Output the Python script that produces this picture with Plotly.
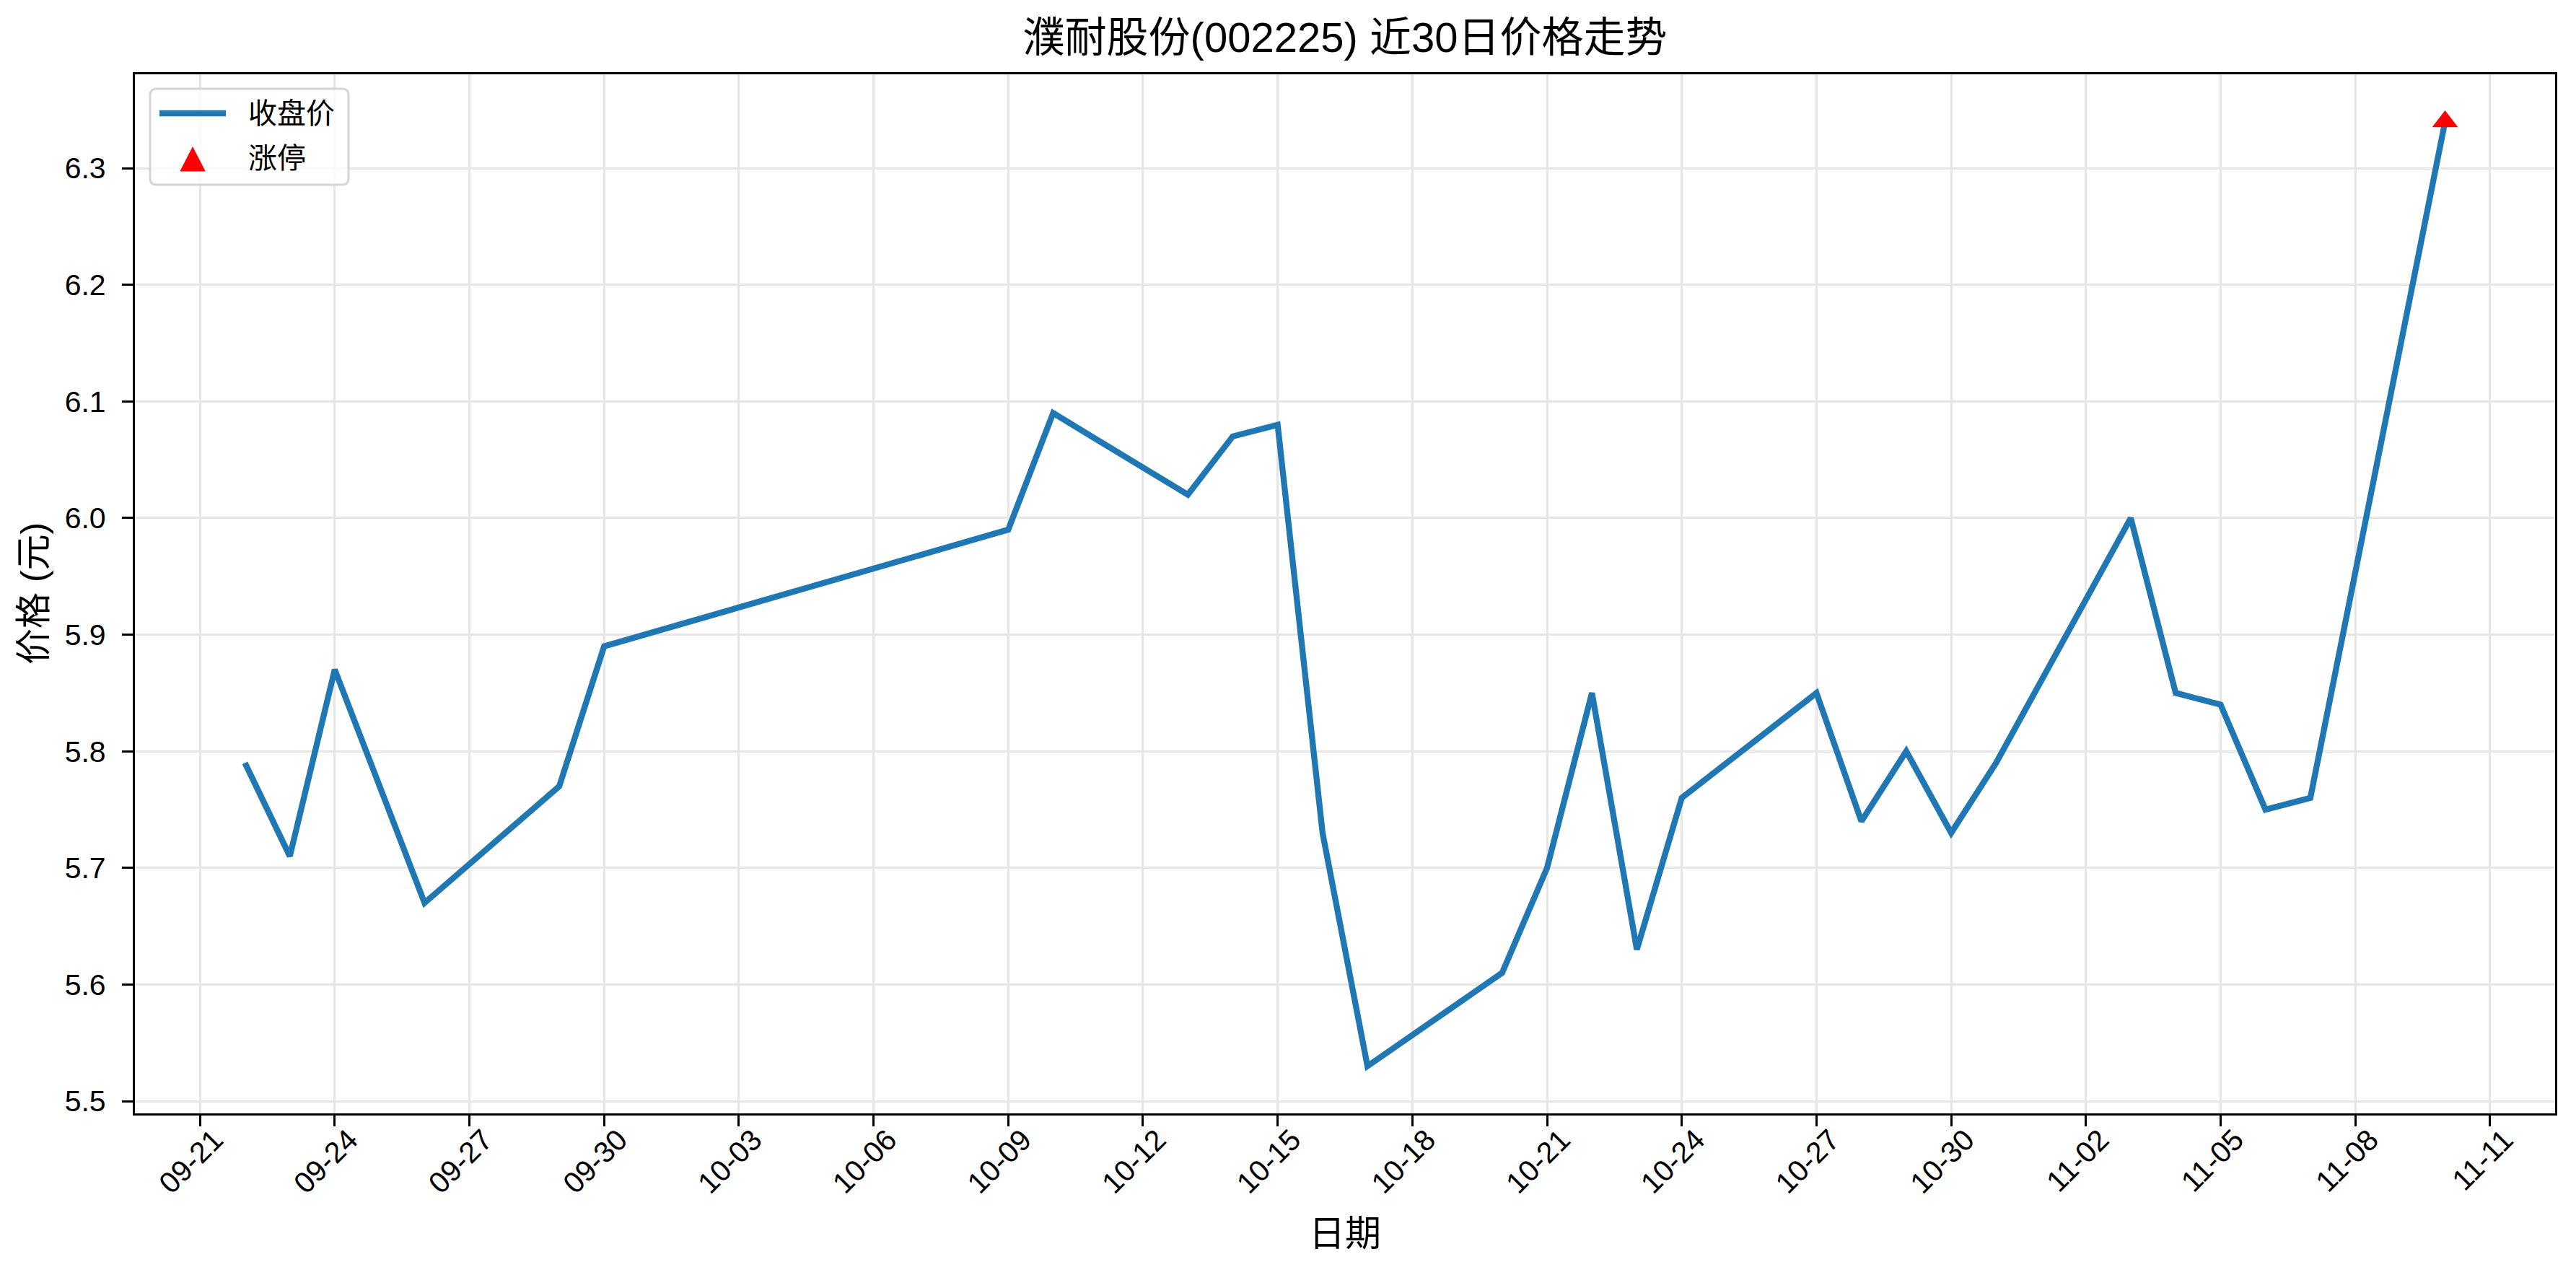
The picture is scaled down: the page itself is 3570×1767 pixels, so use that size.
import pandas as pd
import plotly.graph_objects as go

dates = ["2025-09-22", "2025-09-23", "2025-09-24", "2025-09-25", "2025-09-26",
         "2025-09-29", "2025-09-30", "2025-10-09", "2025-10-10", "2025-10-13",
         "2025-10-14", "2025-10-15", "2025-10-16", "2025-10-17", "2025-10-20",
         "2025-10-21", "2025-10-22", "2025-10-23", "2025-10-24", "2025-10-27",
         "2025-10-28", "2025-10-29", "2025-10-30", "2025-10-31", "2025-11-03",
         "2025-11-04", "2025-11-05", "2025-11-06", "2025-11-07", "2025-11-10"]
close = [5.79, 5.71, 5.87, 5.77, 5.67,
         5.77, 5.89, 5.99, 6.09, 6.02,
         6.07, 6.08, 5.73, 5.53, 5.61,
         5.70, 5.85, 5.63, 5.76, 5.85,
         5.74, 5.80, 5.73, 5.79, 6.00,
         5.85, 5.84, 5.75, 5.76, 6.34]
limit_dates = ["2025-11-10"]
limit_close = [6.34]

title = "濮耐股份(002225) 近30日价格走势"
x_title = "日期"
y_title = "价格 (元)"
line_name = "收盘价"
limit_name = "涨停"

FONT = "Liberation Sans, Arial, Noto Sans CJK SC, sans-serif"
OFF = 8  # default page body margin
W, H = 3570 - 2 * OFF, 1767 - 2 * OFF
# plot area in window pixels: x 187..3541, y 103..1543
ML = 187 - OFF
MR = (3570 - 3541) - OFF
MT = 103 - OFF
MB = (1767 - 1543) - OFF
PW, PH = W - ML - MR, H - MT - MB
LINE_COLOR = "#1f77b4"


def px(x):
    return (x - OFF - ML) / PW


def py(y):
    return (OFF + MT + PH - y) / PH


d = pd.to_datetime(dates)
span = d.max() - d.min()
x0 = d.min() - span * 0.05
x1 = d.max() + span * 0.05
ymin, ymax = min(close), max(close)
yr = ymax - ymin
y0 = ymin - yr * 0.05
y1 = ymax + yr * 0.05

fig = go.Figure()
fig.add_trace(go.Scatter(x=d, y=close, mode="lines", name=line_name,
                         line=dict(color=LINE_COLOR, width=8.3)))
fig.add_trace(go.Scatter(x=pd.to_datetime(limit_dates), y=limit_close, mode="markers",
                         name=limit_name,
                         marker=dict(symbol="triangle-up", color="red", size=31)))

axis_common = dict(showline=True, linecolor="black", linewidth=3.3, mirror=True,
                   ticks="outside", ticklen=15, tickwidth=3.3, tickcolor="black",
                   showgrid=True, gridcolor="#e6e6e6", gridwidth=3,
                   zeroline=False, tickfont=dict(family=FONT, size=41, color="black"))

fig.update_xaxes(type="date", range=[x0, x1], tick0="2025-09-21",
                 dtick=3 * 86400000, tickformat="%m-%d", tickangle=-45,
                 ticklabelstandoff=-22, ticklabelshift=20, **axis_common)
fig.update_yaxes(range=[y0, y1], tick0=5.5, dtick=0.1, tickformat=".1f",
                 ticklabelstandoff=14, **axis_common)

# legend box (drawn like matplotlib's rounded frame)
bx0, bx1, by0, by1, r = 208, 483, 123, 256, 9
rx, ry = r / PW, r / PH
X0, X1, Y0, Y1 = px(bx0), px(bx1), py(by1), py(by0)
box_path = (f"M{X0 + rx},{Y0} L{X1 - rx},{Y0} Q{X1},{Y0} {X1},{Y0 + ry} "
            f"L{X1},{Y1 - ry} Q{X1},{Y1} {X1 - rx},{Y1} "
            f"L{X0 + rx},{Y1} Q{X0},{Y1} {X0},{Y1 - ry} "
            f"L{X0},{Y0 + ry} Q{X0},{Y0} {X0 + rx},{Y0} Z")
tri_path = (f"M{px(267)},{py(204)} L{px(284)},{py(237)} L{px(250)},{py(237)} Z")

shapes = [
    dict(type="path", xref="paper", yref="paper", path=box_path, layer="above",
         fillcolor="rgba(255,255,255,0.8)", line=dict(color="#d5d5d5", width=3)),
    dict(type="line", xref="paper", yref="paper", x0=px(221), x1=px(313),
         y0=py(157), y1=py(157), layer="above",
         line=dict(color=LINE_COLOR, width=8.3)),
    dict(type="path", xref="paper", yref="paper", path=tri_path, layer="above",
         fillcolor="red", line=dict(color="red", width=1)),
]

annotations = [
    dict(text=x_title, xref="paper", yref="paper", x=0.5, y=py(1710),
         xanchor="center", yanchor="middle", showarrow=False,
         font=dict(family=FONT, size=50, color="black")),
    dict(text=y_title, xref="paper", yref="paper", x=px(47),
         y=0.5, xanchor="center", yanchor="middle", textangle=-90, showarrow=False,
         font=dict(family=FONT, size=50, color="black")),
    dict(text=line_name, xref="paper", yref="paper", x=px(342), y=py(157),
         xanchor="left", yanchor="middle", showarrow=False,
         font=dict(family=FONT, size=40, color="black")),
    dict(text=limit_name, xref="paper", yref="paper", x=px(342), y=py(219),
         xanchor="left", yanchor="middle", showarrow=False,
         font=dict(family=FONT, size=40, color="black")),
]

fig.update_layout(
    width=W, height=H,
    margin=dict(l=ML, r=MR, t=MT, b=MB, autoexpand=False),
    plot_bgcolor="white", paper_bgcolor="white",
    font=dict(family=FONT, color="black"),
    title=dict(text=title, x=0.5, xref="paper", xanchor="center",
               y=1 - (52 - OFF) / H, yref="container", yanchor="middle",
               font=dict(family=FONT, size=58, color="black")),
    showlegend=False,
    shapes=shapes,
    annotations=annotations,
)

fig.write_html("out.html")
